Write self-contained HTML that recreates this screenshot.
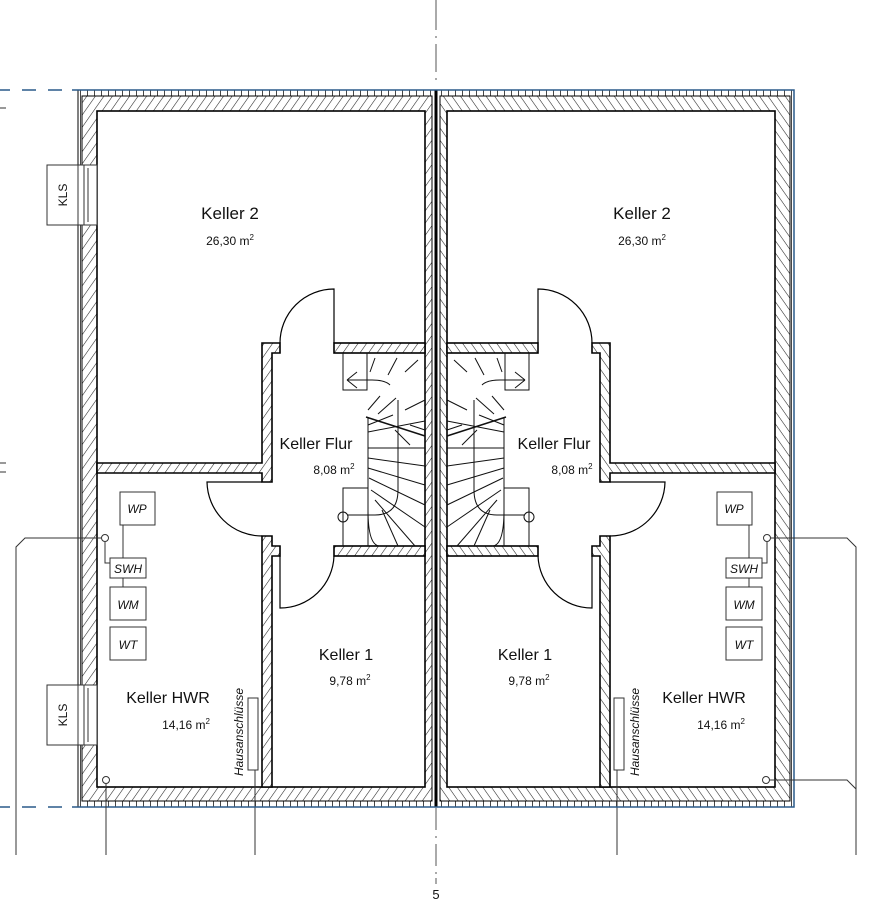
<!DOCTYPE html>
<html><head><meta charset="utf-8"><style>
html,body{margin:0;padding:0;background:#fff;}
svg{display:block;font-family:"Liberation Sans",sans-serif;}
</style></head><body>
<svg width="887" height="900" viewBox="0 0 887 900" xmlns="http://www.w3.org/2000/svg">
<defs>
<pattern id="h" patternUnits="userSpaceOnUse" width="7" height="7" patternTransform="rotate(35)">
<rect width="7" height="7" fill="#fff"/><line x1="0" y1="0" x2="0" y2="7" stroke="#222" stroke-width="1.1"/>
</pattern>
<pattern id="t" patternUnits="userSpaceOnUse" width="7" height="7">
<rect width="7" height="7" fill="#fff"/><line x1="3.5" y1="0" x2="3.5" y2="7" stroke="#333" stroke-width="0.9"/>
</pattern>
<g id="half">
 <!-- insulation band -->
 <rect x="78" y="90" width="358" height="717" fill="url(#t)" stroke="#000" stroke-width="1"/>
 <rect x="82" y="96" width="350" height="705" fill="url(#h)" stroke="#000" stroke-width="1"/>
 <rect x="97" y="111" width="328" height="676" fill="#fff" stroke="#000" stroke-width="1.6"/>
 <!-- interior walls -->
 <g fill="url(#h)" stroke="#000" stroke-width="1.6">
  <path d="M97 463 H262 V343 H280 V353 H272 V482 H262 V473 H97 Z"/>
  <rect x="334" y="343" width="91" height="10"/>
  <path d="M262 536 V787 H272 V556 H280 V546 H272 V536 Z"/>
  <rect x="334" y="546" width="91" height="10"/>
 </g>
 <!-- doors -->
 <g fill="none" stroke="#000" stroke-width="1.2">
  <path d="M334 343 V289 A54 54 0 0 0 280 343"/>
  <path d="M262 482 H207 A55 55 0 0 0 262 536"/>
  <path d="M280 556 V608 A54 54 0 0 0 334 556"/>
 </g>
 <!-- stairs -->
 <g fill="none" stroke="#111" stroke-width="1">
  <path d="M343 353 V390 H367 V353"/>
  <path d="M343 546 V488 H368 V546"/>
  <path d="M368 418 V510 Q368 546 380 546"/>
  <line x1="366" y1="417" x2="425" y2="436" stroke-width="1.5"/>
  <path d="M398 400 V490 Q398 515 375 515 H347"/>
  <circle cx="343" cy="517" r="5"/>
  <line x1="368" y1="448" x2="425" y2="448"/>
  <line x1="368" y1="458" x2="425" y2="466"/>
  <line x1="368" y1="468" x2="425" y2="485"/>
  <line x1="369" y1="478" x2="425" y2="505"/>
  <line x1="371" y1="490" x2="425" y2="527"/>
  <line x1="375" y1="500" x2="415" y2="546"/>
  <line x1="382" y1="510" x2="398" y2="546"/>
  <line x1="368" y1="432" x2="425" y2="421"/>
  <line x1="368" y1="425" x2="393" y2="415"/>
  <path d="M347 380 L357 372 M347 380 L357 388 M347 380 H372 Q385 380 390 385" />
  <line x1="375" y1="358" x2="370" y2="372"/>
  <line x1="397" y1="358" x2="388" y2="375"/>
  <line x1="418" y1="360" x2="405" y2="372"/>
  <line x1="368" y1="410" x2="380" y2="396"/>
  <line x1="378" y1="414" x2="396" y2="398"/>
  <line x1="405" y1="410" x2="425" y2="400"/>
  <line x1="395" y1="430" x2="410" y2="445"/>
  <line x1="410" y1="425" x2="425" y2="430"/>
 </g>
 <!-- equipment -->
 <g fill="#fff" stroke="#333" stroke-width="1">
  <line x1="123" y1="525" x2="123" y2="590"/>
  <rect x="120" y="492" width="35" height="33"/>
  <rect x="110" y="558" width="36" height="20"/>
  <rect x="110" y="587" width="36" height="33"/>
  <rect x="110" y="627" width="36" height="33"/>
  <path d="M105 542 V563 H110" fill="none"/>
  <circle cx="105" cy="538" r="3.5"/>
  <circle cx="106" cy="780" r="3.5"/>
  <rect x="248" y="698" width="10" height="72"/>
  <line x1="255" y1="770" x2="255" y2="855"/>
 </g>
</g>
</defs>

<!-- center axis -->
<g stroke="#555" stroke-width="1">
 <line x1="436" y1="0" x2="436" y2="30"/><line x1="436" y1="36" x2="436" y2="38"/>
 <line x1="436" y1="44" x2="436" y2="72"/><line x1="436" y1="78" x2="436" y2="80"/>
 <line x1="436" y1="808" x2="436" y2="830"/><line x1="436" y1="836" x2="436" y2="838"/>
 <line x1="436" y1="844" x2="436" y2="866"/><line x1="436" y1="872" x2="436" y2="874"/>
 <line x1="436" y1="878" x2="436" y2="884"/>
</g>

<use href="#half"/>
<use href="#half" transform="translate(872,0) scale(-1,1)"/>
<line x1="436" y1="90" x2="436" y2="807" stroke="#000" stroke-width="3"/>

<!-- blue lines -->
<g stroke="#2a5a8a" stroke-width="1.5" fill="none">
 <path d="M0 90 H10 M22 90 H36 M48 90 H62 M72 90 H794 V807 H72 M62 807 H48 M36 807 H22 M10 807 H0"/>
</g>

<!-- KLS left -->
<g stroke="#333" stroke-width="1" fill="#fff">
 <rect x="47" y="165" width="31" height="60"/>
 <rect x="78" y="165" width="19" height="60"/>
 <line x1="84" y1="165" x2="84" y2="225"/><line x1="88" y1="168" x2="88" y2="222"/>
 <rect x="47" y="685" width="31" height="60"/>
 <rect x="78" y="685" width="19" height="60"/>
 <line x1="84" y1="685" x2="84" y2="745"/><line x1="88" y1="688" x2="88" y2="742"/>
</g>

<!-- connectors -->
<g stroke="#333" stroke-width="1" fill="none">
 <path d="M101 538 H25 L16 547 V855"/>
 <line x1="106" y1="784" x2="106" y2="855"/>
 <path d="M771 538 H847 L856 547 V855"/>
 <path d="M769 780 H847 L856 789 V855"/>
 <line x1="0" y1="463" x2="6" y2="463"/><line x1="0" y1="472" x2="6" y2="472"/>
 <line x1="0" y1="108" x2="6" y2="108"/>
</g>

<!-- texts -->
<g fill="#111">
 <text x="230" y="219" font-size="17" text-anchor="middle">Keller 2</text>
 <text x="230" y="245" font-size="12" text-anchor="middle">26,30 m<tspan font-size="8" dy="-5">2</tspan></text>
 <text x="642" y="219" font-size="17" text-anchor="middle">Keller 2</text>
 <text x="642" y="245" font-size="12" text-anchor="middle">26,30 m<tspan font-size="8" dy="-5">2</tspan></text>
 <text x="316" y="449" font-size="16" text-anchor="middle">Keller Flur</text>
 <text x="334" y="474" font-size="12" text-anchor="middle">8,08 m<tspan font-size="8" dy="-5">2</tspan></text>
 <text x="554" y="449" font-size="16" text-anchor="middle">Keller Flur</text>
 <text x="572" y="474" font-size="12" text-anchor="middle">8,08 m<tspan font-size="8" dy="-5">2</tspan></text>
 <text x="346" y="660" font-size="16" text-anchor="middle">Keller 1</text>
 <text x="350" y="685" font-size="12" text-anchor="middle">9,78 m<tspan font-size="8" dy="-5">2</tspan></text>
 <text x="525" y="660" font-size="16" text-anchor="middle">Keller 1</text>
 <text x="529" y="685" font-size="12" text-anchor="middle">9,78 m<tspan font-size="8" dy="-5">2</tspan></text>
 <text x="168" y="703" font-size="16" text-anchor="middle">Keller HWR</text>
 <text x="186" y="729" font-size="12" text-anchor="middle">14,16 m<tspan font-size="8" dy="-5">2</tspan></text>
 <text x="704" y="703" font-size="16" text-anchor="middle">Keller HWR</text>
 <text x="721" y="729" font-size="12" text-anchor="middle">14,16 m<tspan font-size="8" dy="-5">2</tspan></text>
 <g font-size="12" font-style="italic" text-anchor="middle">
  <text x="137" y="513">WP</text><text x="734" y="513">WP</text>
  <text x="128" y="573">SWH</text><text x="744" y="573">SWH</text>
  <text x="128" y="609">WM</text><text x="744" y="609">WM</text>
  <text x="128" y="649">WT</text><text x="744" y="649">WT</text>
 </g>
 <text transform="translate(243,732) rotate(-90)" font-size="12" font-style="italic" text-anchor="middle">Hausanschlüsse</text>
 <text transform="translate(639,732) rotate(-90)" font-size="12" font-style="italic" text-anchor="middle">Hausanschlüsse</text>
 <text transform="translate(67,195) rotate(-90)" font-size="12" text-anchor="middle">KLS</text>
 <text transform="translate(67,715) rotate(-90)" font-size="12" text-anchor="middle">KLS</text>
 <text x="436" y="899" font-size="13" text-anchor="middle">5</text>
</g>
</svg>
</body></html>
